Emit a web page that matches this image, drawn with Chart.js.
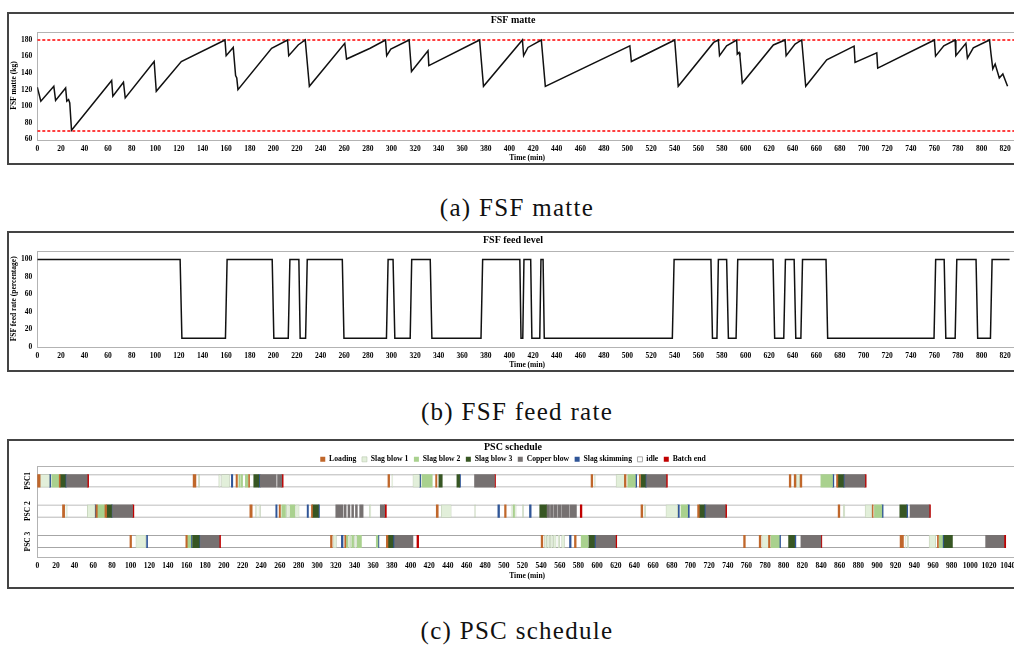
<!DOCTYPE html>
<html>
<head>
<meta charset="utf-8">
<script src="https://cdn.jsdelivr.net/npm/chart.js@4.4.1/dist/chart.umd.min.js"></script>
<style>
html, body { margin: 0; padding: 0; background: #fff; width: 1014px; height: 645px; overflow: hidden; position: relative; }
.box { position: absolute; left: 7px; width: 1016px; border: 2px solid #444; background: #fff; }
.box canvas { display: block; }
.cap { position: absolute; left: 0; width: 1034px; text-align: center; font-family: 'Liberation Serif', serif;
       font-size: 25px; letter-spacing: 1.3px; color: #111; line-height: 30px; }
</style>
</head>
<body>
<div class="box" style="top:12px;height:149px"><canvas id="matteChart" width="1016" height="149"></canvas></div>
<div class="cap" style="top:193px">(a) FSF matte</div>
<div class="box" style="top:231px;height:137px"><canvas id="feedChart" width="1016" height="137"></canvas></div>
<div class="cap" style="top:397px">(b) FSF feed rate</div>
<div class="box" style="top:439px;height:146px"><canvas id="pscChart" width="1016" height="146"></canvas></div>
<div class="cap" style="top:616px">(c) PSC schedule</div>

<script>
// FSF matte (kg) over time (min)
const matteTime = [0, 3, 14, 15.5, 24, 25, 26.5, 27.5, 29, 63, 64, 73, 74.5, 99, 100.8, 122, 159, 160, 166, 168, 169, 170,
  198.5, 212, 213, 221, 227, 230.5, 260.5, 262, 282, 295, 296, 299.5, 315, 317, 331, 331.7, 374.7, 378, 411, 412, 415.7,
  427, 430.4, 502, 503.3, 540, 543, 573, 577, 578, 584, 592.5, 593, 594.5, 595.3, 597.3, 623.6, 633.5, 634.4, 642, 647.6,
  651, 668.8, 692, 692.8, 711.2, 712, 760, 761, 768, 777.6, 778.2, 786.7, 788, 793, 806.7, 808, 809.5, 811.5, 815, 818, 822];
const matteKg = [123, 106, 124, 107, 122, 106, 108, 104, 71, 131, 112, 129, 110, 154, 118, 154, 180, 161, 171, 137, 134, 120,
  170, 180, 161, 174, 180, 124, 176, 157, 170, 180, 161, 169, 180, 142, 167, 149, 180, 124, 180, 161, 171,
  180, 124, 173, 154, 180, 124, 177, 180, 161, 173, 180, 163, 165, 160, 128, 174, 180, 161, 175, 180,
  124, 156, 172.5, 153, 164.5, 146, 180, 160.5, 173, 180, 161, 176, 158, 170.5, 180, 163, 145, 151, 134, 139, 124];
const upperLimit = 180;
const lowerLimit = 70;

// FSF feed rate (percentage) over time (min)
const feedTime = [0, 121, 122.5, 159.4, 160.8, 199, 200.4, 212.6, 214, 221.6, 222.7, 227.3, 228.7, 258.4, 259.8, 295.8, 297.2,
  301.4, 302.9, 315.9, 317.2, 332.9, 334.3, 375.9, 377.3, 408.8, 409.8, 411.3, 412.3, 418, 419, 425.7, 426.7, 428.5, 429.5,
  538, 539.5, 570.7, 572, 575.8, 577, 584, 585.5, 592, 593.4, 623.3, 624.7, 632.4, 633.8, 641.2, 642.6, 646.9, 648.3,
  668.2, 669.6, 759.7, 761.1, 768.3, 769.7, 777.6, 779, 795.3, 796.7, 807.5, 808.9, 823.7];
const feedRate = [100, 100, 10, 10, 100, 100, 10, 10, 100, 100, 10, 10, 100, 100, 10, 10, 100,
  100, 10, 10, 100, 100, 10, 10, 100, 100, 10, 10, 100, 100, 10, 10, 100, 100, 10,
  10, 100, 100, 10, 10, 100, 100, 10, 10, 100, 100, 10, 10, 100, 100, 10, 10, 100,
  100, 10, 10, 100, 100, 10, 10, 100, 100, 10, 10, 100, 100];

// PSC schedule: [task, start, end] in minutes
const pscNames = ['PSC1', 'PSC 2', 'PSC 3'];
const taskKeys = ['L', 'B1', 'B2', 'B3', 'CB', 'SK', 'ID', 'BE'];
const taskNames = ['Loading', 'Slag blow 1', 'Slag blow 2', 'Slag blow 3', 'Copper blow', 'Slag skimming', 'idle', 'Batch end'];
const taskColors = ['#c0672b', '#e2efda', '#a9d18e', '#375623', '#767171', '#2f5597', '#ffffff', '#c00000'];
const pscEnd = [888.3, 957.2, 1037.9];

const psc1Tasks = [
  ['L', 0, 3], ['B1', 3, 13], ['SK', 13, 14.3], ['B2', 15.5, 23.5], ['L', 23.5, 24.5], ['B3', 24.5, 30], ['SK', 30, 31.4], ['CB', 31.4, 53.5], ['BE', 53.5, 55],
  ['L', 167, 170], ['B1', 172.5, 174], ['B1', 194.5, 196], ['B1', 197.5, 206], ['SK', 208, 209.5], ['L', 213, 214.5], ['B2', 216, 217.5], ['B2', 218.5, 220],
  ['B2', 223, 226], ['L', 226.5, 227.5], ['B3', 232, 237.5], ['SK', 237.5, 239], ['CB', 239, 256], ['CB', 257.5, 262], ['BE', 262, 263.5],
  ['L', 375.8, 377.6], ['B1', 380, 381], ['B1', 402.6, 409.7], ['SK', 409.7, 410.8], ['B2', 412.2, 423.3], ['L', 426.9, 428.3], ['B3', 430.4, 434],
  ['B3', 449.7, 452.6], ['SK', 452.6, 453.6], ['CB', 468.6, 490], ['BE', 490, 491.1],
  ['L', 593.5, 595.3], ['B1', 597, 598], ['B1', 620.3, 629.2], ['L', 629.2, 631], ['B2', 632.8, 641], ['SK', 641, 642.4], ['L', 645.3, 646.4],
  ['B3', 647, 651.7], ['SK', 651.7, 653.1], ['CB', 653.1, 673.8], ['BE', 673.8, 675.3],
  ['L', 805.9, 807.7], ['L', 811.2, 813], ['B1', 813.7, 817.3], ['L', 817.6, 819.4], ['B2', 839.8, 852.3], ['SK', 852.3, 853.7], ['L', 856.6, 858],
  ['B3', 858, 864], ['SK', 864, 865.5], ['CB', 865.5, 886.9], ['BE', 886.9, 888.3]
];
const psc2Tasks = [
  ['L', 27, 29.3], ['B1', 30.7, 32], ['B1', 53.6, 61.8], ['SK', 61.8, 62.8], ['L', 62.8, 64.3], ['B2', 64.3, 72.5], ['L', 72.5, 74.3], ['B3', 74.3, 79.6],
  ['SK', 79.6, 80.7], ['CB', 80.7, 102.1], ['BE', 102.1, 103.5],
  ['L', 227.8, 230.3], ['B1', 234, 235.5], ['B1', 237.5, 239.2], ['SK', 255.6, 257], ['L', 259.2, 260.6], ['B2', 262, 266], ['B1', 267, 270], ['B2', 271, 276],
  ['B1', 277, 280.6], ['SK', 289.2, 290.6], ['L', 293.8, 294.9], ['B3', 294.9, 301.3], ['SK', 301.3, 302.4],
  ['CB', 319.9, 327.7], ['CB', 329, 331], ['CB', 333, 335], ['CB', 337, 339], ['CB', 341, 343], ['CB', 345.5, 349.2], ['B1', 356, 357.5],
  ['CB', 367.6, 372.3], ['BE', 372.3, 374.1],
  ['L', 427.6, 429.7], ['B1', 432.9, 443.6], ['B1', 468.6, 469.7], ['SK', 493.6, 495.4], ['L', 500.8, 502.5], ['B1', 507.8, 509], ['B2', 510, 511.5],
  ['B1', 512, 513.2], ['B1', 519.8, 521.2], ['SK', 527.5, 529.3], ['B3', 538.5, 545.7], ['CB', 545.7, 549], ['CB', 550, 553], ['CB', 554, 557],
  ['CB', 558, 561], ['CB', 562, 570], ['CB', 571, 577.8], ['BE', 581.9, 583.7],
  ['L', 647, 648.9], ['B1', 650.5, 652], ['B1', 673.8, 686.3], ['SK', 686.3, 688.1], ['B2', 689.9, 697], ['SK', 697, 698.8], ['L', 707.7, 709.5],
  ['B3', 709.5, 714.9], ['SK', 714.9, 716.6], ['CB', 716.6, 737.3], ['BE', 737.3, 738.8],
  ['L', 858.3, 860.1], ['B1', 863.7, 865.5], ['B1', 887.2, 894.4], ['L', 895, 895.8], ['B2', 897.2, 905.1], ['SK', 905.1, 906.5], ['B3', 924.4, 931.5],
  ['SK', 931.5, 932.9], ['CB', 935.4, 955.8], ['BE', 955.8, 957.2]
];
const psc3Tasks = [
  ['L', 99.3, 101], ['B1', 105.7, 116.4], ['SK', 117.1, 118.2], ['L', 159.2, 160.7], ['B2', 160.7, 164.6], ['SK', 164.6, 165.7], ['B3', 166.4, 173.5],
  ['SK', 173.5, 174.9], ['CB', 174.9, 194.9], ['BE', 194.9, 196.4],
  ['L', 314.2, 316], ['B1', 317, 320.6], ['SK', 325.9, 327.7], ['L', 329.5, 330.6], ['B2', 331, 333], ['B1', 334, 336], ['B2', 337, 339], ['B1', 340, 342],
  ['B2', 343, 347.4], ['B2', 363.3, 365.1], ['SK', 365.1, 366.1], ['L', 374.1, 375.8], ['B3', 375.8, 381.2], ['SK', 381.2, 383], ['CB', 383, 402.6], ['BE', 406.9, 408.7],
  ['L', 540, 541.8], ['B1', 543.6, 546], ['B1', 547, 549], ['B1', 550, 552], ['B1', 553, 556], ['B1', 558, 560], ['B1', 562, 565], ['SK', 570.4, 572.1],
  ['L', 575.7, 577.5], ['B2', 582.9, 590], ['B3', 591.1, 597.1], ['SK', 597.1, 598.9], ['CB', 598.9, 619.6], ['BE', 619.6, 621],
  ['L', 757, 758.8], ['L', 773.7, 775.5], ['B1', 776.6, 783.7], ['L', 783.7, 785.2], ['B2', 786.2, 795.2], ['SK', 795.2, 796.6], ['B3', 805.2, 811.6],
  ['SK', 811.6, 813], ['CB', 818.4, 839.8], ['BE', 839.8, 840.8],
  ['L', 924.7, 928.3], ['B1', 930, 931], ['B1', 932.5, 934], ['B1', 955.8, 962.9], ['L', 964.7, 965.8], ['B2', 966.5, 970.1], ['SK', 970.1, 971.9],
  ['B3', 971.9, 980.8], ['CB', 1016.4, 1036], ['BE', 1036, 1037.9]
];

Chart.defaults.font.family = "'Liberation Serif', 'Times New Roman', serif";
Chart.defaults.font.weight = 'bold';
Chart.defaults.color = '#000';
Chart.defaults.animation = false;
Chart.defaults.plugins.tooltip.enabled = false;

// grey frame around the plot area
const plotFrame = {
  id: 'plotFrame',
  beforeDatasetsDraw(chart) {
    const { ctx, chartArea: a } = chart;
    ctx.save();
    ctx.strokeStyle = '#b3b3b3';
    ctx.lineWidth = 1;
    ctx.strokeRect(Math.round(a.left) + 0.5, Math.round(a.top) + 0.5, Math.round(a.width), Math.round(a.height));
    ctx.restore();
  }
};

// fixed tick list, so the axis max does not swallow the last labelled tick
function evenTicks(from, to, step) {
  return s => {
    s.ticks = [];
    for (let v = from; v <= to; v += step) s.ticks.push({ value: v });
  };
}

function timeAxis(max, lastTick, titlePad, height) {
  return {
    type: 'linear', min: 0, max: max,
    grid: { display: false, drawTicks: false },
    border: { display: false },
    ticks: { padding: 5, maxRotation: 0, autoSkip: false, font: { size: 7.5 }, callback: v => String(v) },
    afterBuildTicks: evenTicks(0, lastTick, 20),
    afterFit: s => { s.height = height; },
    title: { display: true, text: 'Time (min)', font: { size: 7.5 }, padding: { top: 0, bottom: titlePad } }
  };
}

function lineChart(id, title, datasets, yOpts, xHeight, titlePad) {
  return new Chart(document.getElementById(id), {
    type: 'line',
    data: { datasets: datasets },
    options: {
      responsive: false,
      layout: { padding: { left: 0, right: 8, top: 0, bottom: 0 } },
      plugins: {
        legend: { display: false },
        title: { display: true, text: title, font: { size: 10 }, padding: titlePad }
      },
      scales: { x: timeAxis(830, 820, 0, xHeight), y: yOpts }
    },
    plugins: [plotFrame]
  });
}

// (a) FSF matte
const matteLine = matteTime.map((t, i) => ({ x: t, y: matteKg[i] }));
lineChart('matteChart', 'FSF matte', [
  { data: matteLine, borderColor: '#111', borderWidth: 1.5, pointRadius: 0, tension: 0 },
  { data: [{ x: 0, y: upperLimit }, { x: 830, y: upperLimit }], borderColor: '#ff0000', borderWidth: 1.3, borderDash: [3, 2], pointRadius: 0 },
  { data: [{ x: 0, y: lowerLimit }, { x: 830, y: lowerLimit }], borderColor: '#ff0000', borderWidth: 1.3, borderDash: [3, 2], pointRadius: 0 }
], {
  min: 60, max: 190,
  grid: { display: false, drawTicks: false }, border: { display: false },
  ticks: { padding: 5, font: { size: 7.5 }, callback: v => String(v) },
  afterBuildTicks: evenTicks(60, 180, 20),
  afterFit: s => { s.width = 28.3; },
  title: { display: true, text: 'FSF matte (kg)', font: { size: 7.5 }, padding: { top: 1, bottom: 0 } }
}, 23.7, { top: 0, bottom: 5.7 });

// (b) FSF feed rate
const feedLine = feedTime.map((t, i) => ({ x: t, y: feedRate[i] }));
lineChart('feedChart', 'FSF feed level', [
  { data: feedLine, borderColor: '#111', borderWidth: 1.5, pointRadius: 0, tension: 0 }
], {
  min: 0, max: 110,
  grid: { display: false, drawTicks: false }, border: { display: false },
  ticks: { padding: 5, font: { size: 7.5 }, callback: v => String(v) },
  afterBuildTicks: evenTicks(0, 100, 20),
  afterFit: s => { s.width = 28.3; },
  title: { display: true, text: 'FSF feed rate (percentage)', font: { size: 7.5 }, padding: { top: 1, bottom: 0 } }
}, 23, { top: 1, bottom: 4.7 });

// (c) PSC schedule
const pscTasks = [psc1Tasks, psc2Tasks, psc3Tasks];
const ganttSets = taskKeys.map((key, i) => {
  const data = [];
  if (key === 'ID') pscEnd.forEach((e, r) => data.push({ x: [0, e], y: pscNames[r] }));
  pscTasks.forEach((list, r) => list.forEach(t => { if (t[0] === key) data.push({ x: [t[1], t[2]], y: pscNames[r] }); }));
  const light = key === 'ID' || key === 'B1';
  return {
    label: taskNames[i], data: data,
    backgroundColor: taskColors[i],
    borderColor: key === 'ID' ? '#a6a6a6' : (light ? '#b9c7ae' : taskColors[i]),
    borderWidth: key === 'ID' ? 1 : (light ? 0.6 : 0),
    borderSkipped: false, grouped: false, barThickness: 12.5,
    order: key === 'ID' ? 1 : 0
  };
});

const pscLabels = {
  id: 'pscLabels',
  afterDraw(chart) {
    const { ctx } = chart;
    const y = chart.scales.y;
    ctx.save();
    ctx.font = "bold 7.5px 'Liberation Serif'";
    ctx.fillStyle = '#000';
    ctx.textAlign = 'center';
    ctx.textBaseline = 'middle';
    pscNames.forEach((name, i) => {
      ctx.save();
      ctx.translate(19.5, y.getPixelForValue(i));
      ctx.rotate(-Math.PI / 2);
      ctx.fillText(name, 0, 0);
      ctx.restore();
    });
    ctx.restore();
  }
};

new Chart(document.getElementById('pscChart'), {
  type: 'bar',
  data: { labels: pscNames, datasets: ganttSets },
  options: {
    responsive: false,
    indexAxis: 'y',
    layout: { padding: { left: 0, right: 8, top: 0, bottom: 0 } },
    plugins: {
      title: { display: true, text: 'PSC schedule', font: { size: 10 }, padding: { top: 0, bottom: -3 } },
      legend: {
        position: 'top',
        maxHeight: 15.7,
        labels: {
          boxWidth: 5, boxHeight: 5, padding: 5.5, font: { size: 7.7 },
          sort: (a, b) => a.datasetIndex - b.datasetIndex
        }
      }
    },
    scales: {
      x: timeAxis(1050, 1040, 6.8, 30.3),
      y: {
        type: 'category',
        grid: { display: false, drawTicks: false }, border: { display: false },
        ticks: { display: false },
        afterFit: s => { s.width = 28.3; }
      }
    }
  },
  plugins: [plotFrame, pscLabels]
});
</script>
</body>
</html>
